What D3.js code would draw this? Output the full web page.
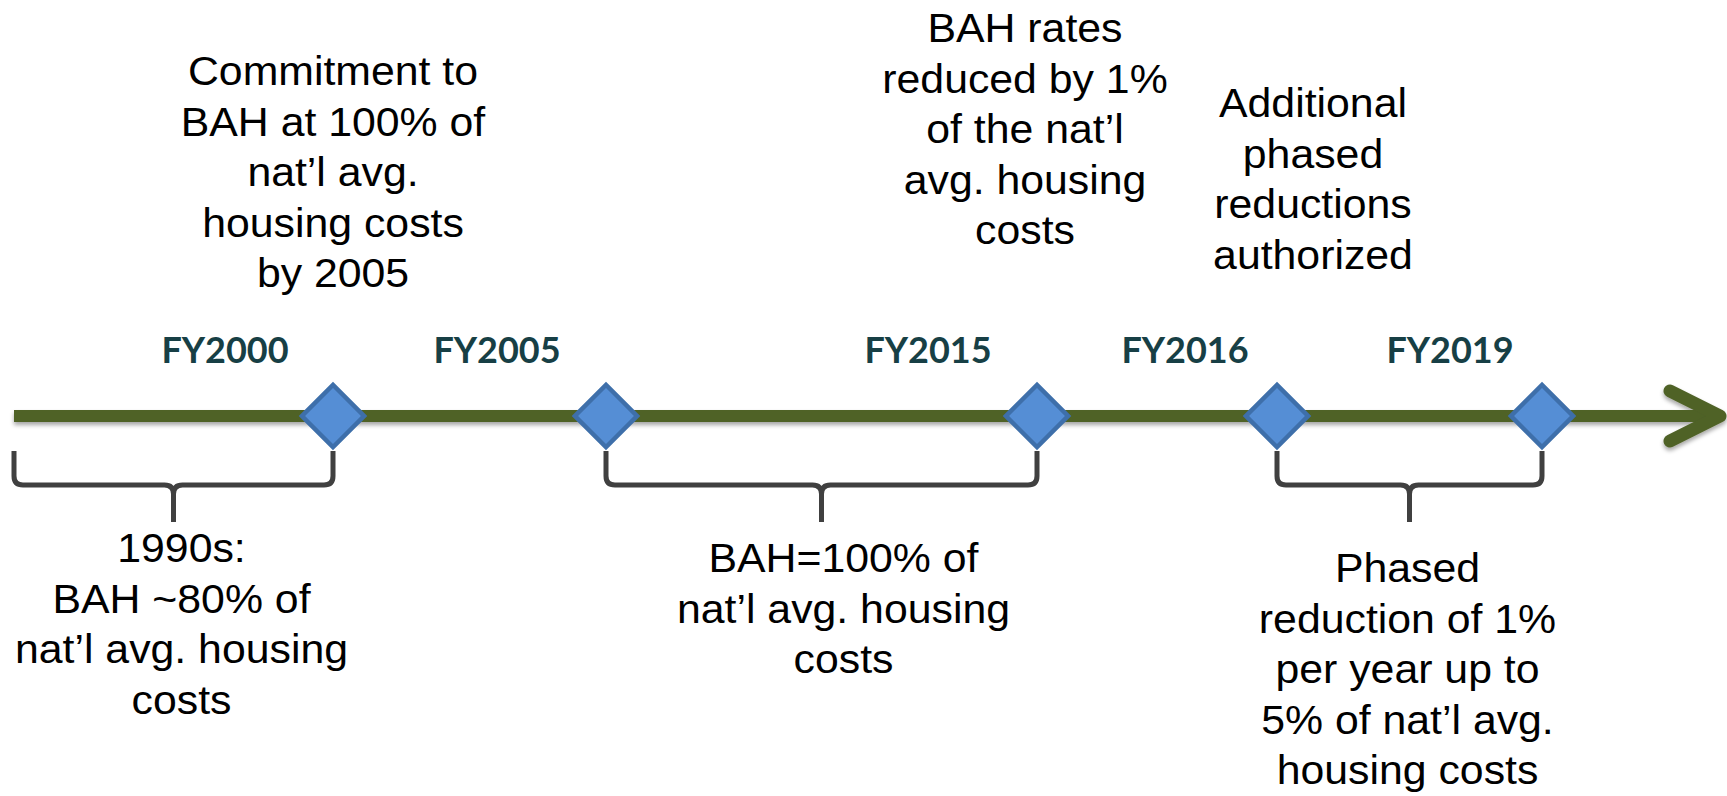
<!DOCTYPE html>
<html>
<head>
<meta charset="utf-8">
<script src="https://cdn.jsdelivr.net/npm/d3@7"></script>
<style>
  body { margin: 0; background: #fff; }
  svg { display: block; }
</style>
</head>
<body>
<div id="chart"></div>
<script>
// milestones on the line
var years = [2000, 2005, 2015, 2016, 2019];
var fyLabels = ["FY2000", "FY2005", "FY2015", "FY2016", "FY2019"];

// notes above the line
var noteYears = [2000, 2015, 2016];
var noteLines = [
  ["Commitment to", "BAH at 100% of", "nat\u2019l avg.", "housing costs", "by 2005"],
  ["BAH rates", "reduced by 1%", "of the nat\u2019l", "avg. housing", "costs"],
  ["Additional", "phased", "reductions", "authorized"]
];

// braced periods below the line
var spanStart = [1990, 2005, 2016];
var spanEnd = [2000, 2015, 2019];
var spanLines = [
  ["1990s:", "BAH ~80% of", "nat\u2019l avg. housing", "costs"],
  ["BAH=100% of", "nat\u2019l avg. housing", "costs"],
  ["Phased", "reduction of 1%", "per year up to", "5% of nat\u2019l avg.", "housing costs"]
];

var width = 1727, height = 796, lineY = 416;

// the slide does not space years evenly, so the scale is piecewise
var x = d3.scaleLinear()
    .domain([1990, 2000, 2005, 2015, 2016, 2019, 2022])
    .range([14, 333, 606, 1037, 1277, 1542, 1720]);

var labelDx = [-108, -109, -109, -92, -92], labelY = 363;
var noteDx = [0, -12, 36], noteTop = [85, 42, 117];
var spanDx = [8, 22, -2], spanTop = [562, 572, 582];
var lineH = 50.6, stretch = 1.07;

var svg = d3.select("#chart")
  .append("svg")
    .attr("width", width)
    .attr("height", height);

var defs = svg.append("defs");
defs.append("filter")
    .attr("id", "shadow")
    .attr("filterUnits", "userSpaceOnUse")
    .attr("x", 0).attr("y", 0)
    .attr("width", width).attr("height", height)
  .append("feDropShadow")
    .attr("dx", 0).attr("dy", 3)
    .attr("stdDeviation", 2)
    .attr("flood-color", "#000")
    .attr("flood-opacity", 0.35);

// arrow
var axis = svg.append("g").attr("filter", "url(#shadow)");
axis.append("line")
    .attr("x1", x(1990)).attr("x2", x(2022) - 4)
    .attr("y1", lineY).attr("y2", lineY)
    .attr("stroke", "#4F6228")
    .attr("stroke-width", 12);
axis.append("path")
    .attr("d", "M" + (x(2022) - 50) + "," + (lineY - 25) +
               "L" + x(2022) + "," + lineY +
               "L" + (x(2022) - 50) + "," + (lineY + 25))
    .attr("fill", "none")
    .attr("stroke", "#4F6228")
    .attr("stroke-width", 13)
    .attr("stroke-linecap", "round")
    .attr("stroke-linejoin", "round");

// braces
var bTop = 451, bMid = 485, bTip = 522, r = 9;
function brace(a, b) {
  var x0 = x(a), x1 = x(b), xm = (x0 + x1) / 2;
  var p = d3.path();
  p.moveTo(x0, bTop);
  p.lineTo(x0, bMid - r);
  p.quadraticCurveTo(x0, bMid, x0 + r, bMid);
  p.lineTo(xm - r, bMid);
  p.quadraticCurveTo(xm, bMid, xm, bMid + r);
  p.lineTo(xm, bTip);
  p.moveTo(x1, bTop);
  p.lineTo(x1, bMid - r);
  p.quadraticCurveTo(x1, bMid, x1 - r, bMid);
  p.lineTo(xm + r, bMid);
  p.quadraticCurveTo(xm, bMid, xm, bMid + r);
  return p.toString();
}

svg.append("g").selectAll("path")
  .data(spanStart)
  .enter().append("path")
    .attr("d", function(d, i) { return brace(d, spanEnd[i]); })
    .attr("fill", "none")
    .attr("stroke", "#404040")
    .attr("stroke-width", 5);

// diamonds
var diamond = d3.symbol().type(d3.symbolSquare).size(44 * 44);
svg.append("g").selectAll("path")
  .data(years)
  .enter().append("path")
    .attr("d", diamond)
    .attr("transform", function(d) { return "translate(" + x(d) + "," + lineY + ") rotate(45)"; })
    .attr("fill", "#558ED5")
    .attr("stroke", "#3E6FAA")
    .attr("stroke-width", 4.5);

// FY labels
svg.append("g").selectAll("text")
  .data(fyLabels)
  .enter().append("text")
    .attr("x", function(d, i) { return x(years[i]) + labelDx[i]; })
    .attr("y", labelY)
    .attr("text-anchor", "middle")
    .style("font-family", "Lato, 'Open Sans', sans-serif")
    .style("font-weight", "bold")
    .style("font-size", "36px")
    .style("fill", "#173F45")
    .text(function(d) { return d; });

// multi-line text blocks
function block(cx, top, lines) {
  var t = svg.append("g")
      .attr("transform", "translate(" + cx + ",0) scale(" + stretch + ",1)")
    .append("text")
      .attr("text-anchor", "middle")
      .style("font-family", "'Liberation Sans', Arial, sans-serif")
      .style("font-size", "40px")
      .style("fill", "#000");
  t.selectAll("tspan")
    .data(lines)
    .enter().append("tspan")
      .attr("x", 0)
      .attr("y", function(d, j) { return top + j * lineH; })
      .text(function(d) { return d; });
}

noteLines.forEach(function(lines, i) {
  block(x(noteYears[i]) + noteDx[i], noteTop[i], lines);
});
spanLines.forEach(function(lines, i) {
  block((x(spanStart[i]) + x(spanEnd[i])) / 2 + spanDx[i], spanTop[i], lines);
});
</script>
</body>
</html>
